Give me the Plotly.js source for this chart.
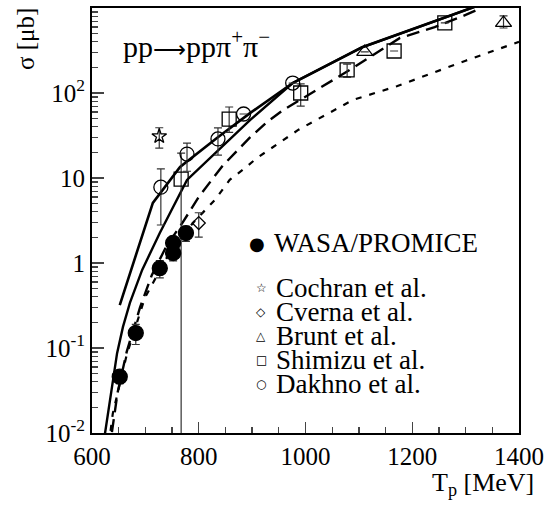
<!DOCTYPE html>
<html><head><meta charset="utf-8">
<script src="https://cdn.plot.ly/plotly-3.0.1.min.js"></script>
<style>html,body{margin:0;padding:0;background:#fff}#plot{width:548px;height:508px}</style>
</head><body><div id="plot"></div>
<script>
// WASA/PROMICE
const wasaT = [652, 682, 727, 752, 752, 776];
const wasaS = [0.046, 0.15, 0.87, 1.72, 1.31, 2.25];
const wasaE = [0.008, 0.04, 0.2, 0.3, 0.25, 0.45];
// Cochran et al.
const cochranT = [726];
const cochranS = [31];
const cochranEp = [8];
const cochranEm = [8.5];
// Cverna et al.
const cvernaT = [800];
const cvernaS = [2.95];
const cvernaEp = [0.95];
const cvernaEm = [0.93];
// Brunt et al.
const bruntT = [1111, 1371];
const bruntS = [304, 667];
const bruntEp = [0, 139];
const bruntEm = [0, 85];
// Shimizu et al.
const shimizuT = [767, 857, 991, 1078, 1166, 1261];
const shimizuS = [9.7, 49.4, 100, 187, 312, 667];
const shimizuEp = [9.9, 19, 28, 32, 0, 0];
const shimizuEm = [9.6999, 15, 30, 33, 0, 0];
// Dakhno et al.
const dakhnoT = [729, 778, 836, 884, 976];
const dakhnoS = [7.8, 19.1, 28.8, 56.6, 131];
const dakhnoEp = [5, 6.6, 10, 0, 0];
const dakhnoEm = [5, 7.1, 10.2, 0, 0];
// theory curves
const solidAT = [652, 714, 765, 834, 896, 976, 1106, 1200, 1320];
const solidAS = [0.32, 5.1, 13.5, 29.5, 58, 131, 345, 560, 1050];
const solidBT = [620, 647, 658, 671, 694, 727, 778, 896, 976, 1106, 1200, 1320];
const solidBS = [0.0065, 0.087, 0.177, 0.34, 0.83, 2.25, 9.5, 48, 131, 345, 560, 1050];
const longT = [632, 648, 665, 690, 712, 740, 770, 800, 845, 896, 928, 958, 990, 1051, 1083, 1177, 1242, 1300, 1330];
const longS = [0.006, 0.03, 0.09, 0.3, 0.72, 1.6, 3.0, 6, 14, 30, 45.6, 63, 83, 142, 187, 444, 597, 828, 1000];
const shortT = [628, 639, 665, 699, 750, 790, 830, 858, 886, 909, 987, 1089, 1171, 1300, 1400];
const shortS = [0.005, 0.017, 0.083, 0.39, 1.5, 3.0, 5.5, 9.5, 13, 17.2, 37, 83, 120, 240, 400];
// axis labels
const xTicks = [600, 800, 1000, 1200, 1400];
const yTicks = [0.01, 0.1, 1, 10, 100];
const yTickText = ['10<sup>-2</sup>', '10<sup>-1</sup>', '1', '10', '10<sup>2</sup>'];
const legendNames = ['Cochran et al.', 'Cverna et al.', 'Brunt et al.', 'Shimizu et al.', 'Dakhno et al.'];
const legendSyms = ['☆', '◇', '△', '□', '○'];

const serif = '"Liberation Serif"';
const L = 92, R = 519, T0 = 8, B = 433;
const px = x => (x - L) / (R - L);
const py = y => (B - y) / (B - T0);

function curve(x, y, dash, w) {
  return {x, y, type: 'scatter', mode: 'lines', line: {color: 'black', width: w, dash}, hoverinfo: 'skip', showlegend: false};
}
function pts(x, y, ep, em, symbol, size) {
  return {x, y, type: 'scatter', mode: 'markers',
    marker: {symbol, size, color: 'black', line: {color: 'black', width: 1.3}},
    error_y: {type: 'data', symmetric: false, array: ep, arrayminus: em, color: '#333', thickness: 1.2, width: 4},
    showlegend: false};
}
const traces = [
  curve(solidAT, solidAS, 'solid', 2.6),
  curve(solidBT, solidBS, 'solid', 2.4),
  curve(longT, longS, '13px,7px', 2.4),
  curve(shortT, shortS, '6px,8px', 2.2),
  pts(shimizuT, shimizuS, shimizuEp, shimizuEm, 'square-open', 14),
  pts(dakhnoT, dakhnoS, dakhnoEp, dakhnoEm, 'circle-open', 14),
  pts(bruntT, bruntS, bruntEp, bruntEm, 'triangle-up-open', 14),
  pts(cvernaT, cvernaS, cvernaEp, cvernaEm, 'diamond-open', 10),
  pts(cochranT, cochranS, cochranEp, cochranEm, 'star-open', 11),
  pts(wasaT, wasaS, wasaE, wasaE, 'circle', 15)
];

const yMinor = [];
for (let d = -2; d <= 2; d++) for (let m = 2; m <= 9; m++) yMinor.push(m * Math.pow(10, d));

const ann = [
  {text: 'pp<span style="font-size:23px">⟶</span>ppπ<sup>+</sup>π<sup>−</sup>', x: px(121), y: py(44), xanchor: 'left', yanchor: 'middle', font: {family: serif, size: 30}},
  {text: 'σ [μb]', textangle: -90, x: px(25), y: py(6), xanchor: 'center', yanchor: 'top', font: {family: serif, size: 25}},
  {text: 'T<sub>p</sub> [MeV]', x: px(536), y: py(466), xanchor: 'right', yanchor: 'top', font: {family: serif, size: 26}},
  {text: '●', x: px(257), y: py(243), xanchor: 'center', yanchor: 'middle', font: {family: 'DejaVu Sans', size: 18}},
  {text: 'WASA/PROMICE', x: px(272), y: py(243), xanchor: 'left', yanchor: 'middle', font: {family: serif, size: 27}}
];
const legY = [288, 312, 336, 360, 384];
legendNames.forEach((n, i) => {
  ann.push({text: legendSyms[i], x: px(261), y: py(legY[i]), xanchor: 'center', yanchor: 'middle', font: {family: 'DejaVu Sans', size: 12}});
  ann.push({text: n, x: px(274), y: py(legY[i]), xanchor: 'left', yanchor: 'middle', font: {family: serif, size: 27}});
});
ann.forEach(a => { a.xref = 'paper'; a.yref = 'paper'; a.showarrow = false; a.font.color = 'black'; });

const layout = {
  width: 548, height: 508,
  font: {family: serif, color: 'black'},
  margin: {l: L, r: 548 - R, t: T0, b: 508 - B},
  paper_bgcolor: 'white', plot_bgcolor: 'white',
  showlegend: false,
  xaxis: {range: [600, 1400], tickmode: 'array', tickvals: xTicks, ticks: 'inside', ticklen: 11, tickwidth: 1.3,
    showline: true, linewidth: 2, linecolor: 'black', mirror: true, showgrid: false, zeroline: false,
    minor: {dtick: 50, ticks: 'inside', ticklen: 6, tickwidth: 1.3, showgrid: false},
    tickfont: {family: serif, size: 25, color: 'black'}},
  yaxis: {type: 'log', range: [-2, 3], tickmode: 'array', tickvals: yTicks, ticktext: yTickText,
    ticks: 'inside', ticklen: 12, tickwidth: 1.3,
    showline: true, linewidth: 2, linecolor: 'black', mirror: true, showgrid: false, zeroline: false,
    minor: {tickmode: 'array', tickvals: yMinor, ticks: 'inside', ticklen: 6, tickwidth: 1.3, showgrid: false},
    tickfont: {family: serif, size: 25, color: 'black'}},
  annotations: ann
};
Plotly.newPlot('plot', traces, layout, {staticPlot: true});
</script></body></html>
